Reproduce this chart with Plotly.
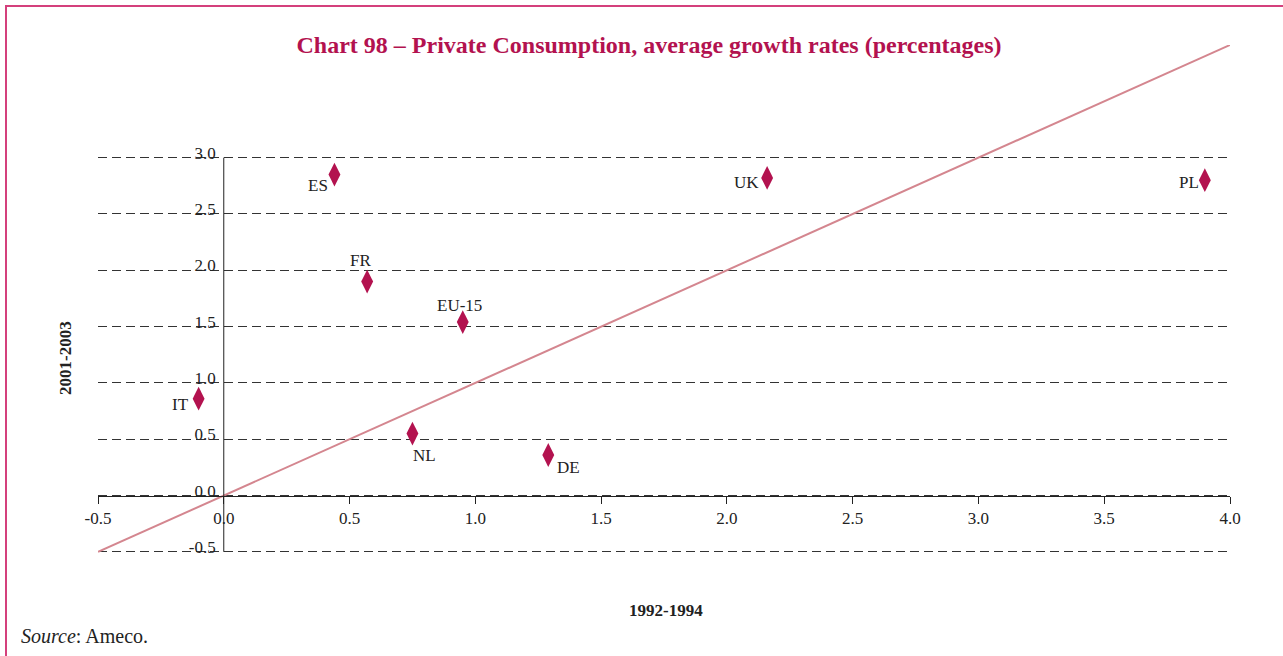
import plotly.graph_objects as go

countries = ["ES", "FR", "EU-15", "IT", "NL", "DE", "UK", "PL"]
x_1992_1994 = [0.44, 0.57, 0.95, -0.10, 0.75, 1.29, 2.16, 3.90]
y_2001_2003 = [2.85, 1.90, 1.54, 0.86, 0.55, 0.36, 2.82, 2.80]
# label offsets in pixels (dx right, dy down)
label_dx = [-16, -7, -3, -18, 12, 20, -21, -16]
label_dy = [11, -21, -17, 6, 22, 12, 5, 2]

diag_x = [-0.5, 4.0]
diag_y = [-0.5, 4.0]

x_ticks = [-0.5, 0.0, 0.5, 1.0, 1.5, 2.0, 2.5, 3.0, 3.5, 4.0]
y_ticks = [-0.5, 0.0, 0.5, 1.0, 1.5, 2.0, 2.5, 3.0]

Y_MIN, Y_MAX = -0.51, 4.0
W, H = 1283, 656
L, R, T = 98, 53, 45
UNIT_Y = 112.67
B = round(H - T - UNIT_Y * (Y_MAX - Y_MIN))
pw, ph = W - L - R, H - T - B

def px_x(p):
    return (p - L) / pw

def px_y(p):
    return (H - B - p) / ph

FONT = "Liberation Serif, Times New Roman, serif"
RED = "#b3124f"
TXT = "#222"

fig = go.Figure()
fig.add_trace(go.Scatter(
    x=diag_x, y=diag_y, mode="lines",
    line=dict(color="#d4868f", width=2), hoverinfo="skip", showlegend=False))
fig.add_trace(go.Scatter(
    x=x_1992_1994, y=y_2001_2003, mode="markers", text=countries,
    marker=dict(symbol="diamond-tall", size=17, color=RED),
    showlegend=False))

annotations = []
for c, xv, yv, dx, dy in zip(countries, x_1992_1994, y_2001_2003, label_dx, label_dy):
    annotations.append(dict(text=c, x=xv, y=yv, xref="x", yref="y", showarrow=False,
                            xshift=dx, yshift=-dy, xanchor="center", yanchor="middle",
                            font=dict(family=FONT, size=17, color=TXT)))

annotations += [
    dict(text="<b>2001-2003</b>", xref="paper", yref="paper", x=px_x(65), y=px_y(358),
         textangle=-90, showarrow=False, xanchor="center", yanchor="middle",
         font=dict(family=FONT, size=17, color=TXT)),
    dict(text="<b>1992-1994</b>", xref="paper", yref="paper", x=px_x(666), y=px_y(610),
         showarrow=False, xanchor="center", yanchor="middle",
         font=dict(family=FONT, size=17, color=TXT)),
    dict(text="<i>Source</i>: Ameco.", xref="paper", yref="paper", x=px_x(19), y=px_y(636),
         showarrow=False, xanchor="left", yanchor="middle",
         font=dict(family=FONT, size=20, color=TXT)),
]

zero_pos = (0 - Y_MIN) / (Y_MAX - Y_MIN)

fig.update_layout(
    width=W, height=H,
    margin=dict(l=L, r=R, t=T, b=B),
    paper_bgcolor="white", plot_bgcolor="white",
    font=dict(family=FONT, size=16, color=TXT),
    title=dict(text="<b>Chart 98 – Private Consumption, average growth rates (percentages)</b>",
               x=649 / W, xanchor="center", y=1 - 45 / H, yanchor="middle",
               yref="container", xref="container",
               font=dict(family=FONT, size=24, color=RED)),
    xaxis=dict(range=[-0.5, 4.0], tickvals=x_ticks, ticktext=[f"{v:.1f}" for v in x_ticks],
               showgrid=False, zeroline=False, showline=True, linecolor=TXT, linewidth=1,
               ticks="outside", ticklen=7, tickcolor=TXT,
               anchor="free", position=zero_pos,
               tickfont=dict(family=FONT, size=17, color=TXT)),
    yaxis=dict(range=[Y_MIN, Y_MAX], tickvals=y_ticks, ticktext=[f"{v:.1f}" for v in y_ticks],
               showgrid=True, gridcolor="#333", griddash="9px,5px", gridwidth=1,
               zeroline=False, showline=False, ticks="",
               anchor="free", position=0.5 / 4.5, ticklabelshift=-5, ticklabelstandoff=8,
               tickfont=dict(family=FONT, size=17, color=TXT)),
    shapes=[
        dict(type="line", x0=0, x1=0, y0=y_ticks[0], y1=y_ticks[-1], xref="x", yref="y",
             line=dict(color=TXT, width=1), layer="above"),
        dict(type="rect", xref="paper", yref="paper", x0=px_x(6), x1=px_x(W + 20),
             y0=px_y(6), y1=px_y(H + 20), line=dict(color="#d4407c", width=2),
             fillcolor="rgba(0,0,0,0)", layer="above"),
    ],
    annotations=annotations,
)

fig.write_html("out.html", config={"displayModeBar": False})
with open("out.html", "r", encoding="utf-8") as f:
    html = f.read()
html = html.replace("<body>", '<body style="margin:0;padding:0;overflow:hidden">', 1)
html = html.replace("<head>", '<head><style>html,body{margin:0;padding:0;}</style>', 1)
with open("out.html", "w", encoding="utf-8") as f:
    f.write(html)
